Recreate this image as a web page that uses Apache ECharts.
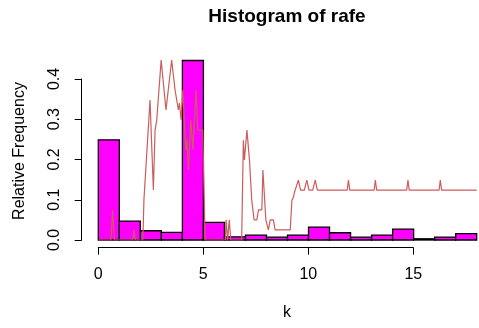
<!DOCTYPE html>
<html>
<head>
<meta charset="utf-8">
<script src="https://cdn.jsdelivr.net/npm/echarts@6/dist/echarts.min.js"></script>
<style>
html,body{margin:0;padding:0;background:#fff;}
#chart{width:479px;height:328px;}
</style>
</head>
<body>
<div id="chart"></div>
<script>
// ---- data ----
const binStarts = [0,1,2,3,4,5,6,7,8,9,10,11,12,13,14,15,16,17];
const binWidth = 1;
const relFreq = [0.249,0.047,0.023,0.019,0.446,0.044,0.008,0.012,0.007,0.012,0.032,0.018,0.007,0.012,0.027,0.003,0.007,0.016];

const lineX = [0,0.60,0.68,0.76,1.64,1.70,1.76,2.12,2.17,2.24,2.46,2.62,2.70,2.78,2.99,3.07,3.22,3.49,3.57,3.65,3.81,3.86,3.94,4.02,4.08,4.16,4.22,4.29,4.40,4.50,4.65,4.73,4.97,5.08,
  6.04,6.08,6.12,6.15,6.20,6.23,6.27,6.30,6.82,6.90,6.95,7.07,7.19,7.30,7.41,7.54,7.62,7.78,7.83,7.97,8.09,8.18,8.33,8.41,
  9.13,9.21,9.27,9.34,9.41,9.52,9.62,9.80,9.92,10.02,10.20,10.32,10.42,11.84,11.90,11.96,13.12,13.18,13.24,14.67,14.73,14.79,16.21,16.27,16.33,18.0];
const lineY = [0,0,0.074,0,0,0.025,0,0,0.099,0.099,0.348,0.124,0.273,0.298,0.447,0.447,0.323,0.447,0.447,0.373,0.323,0.340,0.298,0.373,0.373,0.224,0.250,0.174,0.298,0.224,0.373,0.273,0.273,0,
  0,0.05,0.05,0,0,0.05,0.05,0,0,0.248,0.199,0.273,0.199,0.099,0.05,0.05,0.075,0.075,0.174,0.05,0.025,0.05,0.05,0.025,
  0.025,0.099,0.105,0.120,0.124,0.149,0.124,0.124,0.149,0.124,0.124,0.149,0.124,0.124,0.149,0.124,0.124,0.149,0.124,0.124,0.149,0.124,0.124,0.149,0.124,0.124];

const xTicks = [0,5,10,15];
const yTicks = [0,0.1,0.2,0.3,0.4];
const xRange = [0,18];
const yRange = [0,0.45];

// ---- layout (pixels) ----
const plotLeft = 98.3, plotRight = 479 - 476.7;
const yZeroPx = 240, pxPerY = 402.5, pxPerX = 21;
const plotBottom = 328 - yZeroPx;
const plotTop = yZeroPx - yRange[1]*pxPerY;
const yAxisLinePx = 81.7, xAxisLinePx = 247.7;
const FONT = '"Liberation Sans", Arial, Helvetica, sans-serif';

const histData = binStarts.map((s,i)=>[s, s+binWidth, relFreq[i]]);
const lineData = lineX.map((x,i)=>[x, lineY[i]]);

const chart = echarts.init(document.getElementById('chart'), null, {renderer:'canvas'});
const yTickMax = yTicks[yTicks.length-1];
const xTickMax = xTicks[xTicks.length-1];

chart.setOption({
  animation:false,
  backgroundColor:'#ffffff',
  grid:[
    {left:plotLeft, right:plotRight, top:plotTop, bottom:plotBottom},
    {left:plotLeft, right:plotRight, top:yZeroPx - yTickMax*pxPerY, bottom:plotBottom},
    {left:plotLeft, width:xTickMax*pxPerX, top:plotTop, bottom:plotBottom}
  ],
  xAxis:[
    {gridIndex:0, type:'value', min:xRange[0], max:xRange[1], show:false},
    {gridIndex:1, type:'value', min:0, max:1, show:false},
    {gridIndex:2, type:'value', min:xTicks[0], max:xTickMax, interval:5, position:'bottom',
      offset:xAxisLinePx - yZeroPx,
      axisLine:{show:true, onZero:false, lineStyle:{color:'#000', width:1}},
      axisTick:{show:true, length:7, lineStyle:{color:'#000', width:1}},
      axisLabel:{show:true, color:'#000', fontSize:16, fontFamily:FONT, margin:19},
      splitLine:{show:false}}
  ],
  yAxis:[
    {gridIndex:0, type:'value', min:yRange[0], max:yRange[1], show:false},
    {gridIndex:1, type:'value', min:yTicks[0], max:yTickMax, interval:0.1, position:'left',
      offset:plotLeft - yAxisLinePx,
      axisLine:{show:true, onZero:false, lineStyle:{color:'#000', width:1}},
      axisTick:{show:true, length:7, lineStyle:{color:'#000', width:1}},
      axisLabel:{show:true, color:'#000', fontSize:16, fontFamily:FONT, margin:19, rotate:90,
        formatter:(v)=>v.toFixed(1)},
      splitLine:{show:false}},
    {gridIndex:2, type:'value', min:0, max:1, show:false}
  ],
  series:[
    {type:'custom', xAxisIndex:0, yAxisIndex:0, data:histData, z:2,
      renderItem:function(params, api){
        const p0 = api.coord([api.value(0), api.value(2)]);
        const p1 = api.coord([api.value(1), 0]);
        return {type:'rect', shape:{x:p0[0], y:p0[1], width:p1[0]-p0[0], height:p1[1]-p0[1]},
          style:{fill:'#FF00FF', stroke:'#000000', lineWidth:1.3}};
      }},
    {type:'line', xAxisIndex:0, yAxisIndex:0, data:lineData, z:3,
      showSymbol:false, symbol:'none', silent:true,
      lineStyle:{color:'#CD5C5C', width:1.2}}
  ],
  graphic:[
    {type:'text', x:287, y:17, style:{text:'Histogram of rafe', fontSize:19, fontWeight:'bold', fontFamily:FONT, fill:'#000', align:'center', verticalAlign:'middle'}},
    {type:'text', x:287, y:313, style:{text:'k', fontSize:16, fontFamily:FONT, fill:'#000', align:'center', verticalAlign:'middle'}},
    {type:'text', x:20, y:151, rotation:Math.PI/2, style:{text:'Relative Frequency', fontSize:16, fontFamily:FONT, fill:'#000', align:'center', verticalAlign:'middle'}}
  ]
});
</script>
</body>
</html>
